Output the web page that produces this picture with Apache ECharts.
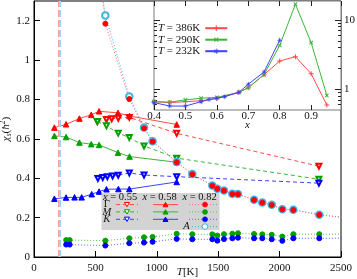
<!DOCTYPE html>
<html><head><meta charset="utf-8">
<script src="https://cdn.jsdelivr.net/npm/echarts@6/dist/echarts.min.js"></script>
<style>html,body{margin:0;padding:0;background:#fff}#c{width:357px;height:279px}</style>
</head><body><div id="c"></div>
<script>
// ---------- main plot data (T in K, chi_s in hbar^2) ----------
const TC_LINES = [198, 213];
const T55_G = [516, 590, 633, 686, 776, 1162, 2320];
const G55   = [0.688, 0.698, 0.702, 0.705, 0.709, 0.628, 0.461];
const T55_M = [516, 590, 686, 776, 896, 1162, 2320];
const M55   = [0.688, 0.666, 0.629, 0.607, 0.564, 0.502, 0.395];
const T55_K = [520, 560, 597, 640, 686, 776, 896, 1162, 2320];
const K55   = [0.399, 0.404, 0.408, 0.411, 0.415, 0.427, 0.416, 0.408, 0.375];
const T58   = [166, 261, 370, 466, 530, 684, 778, 1162];
const G58   = [0.657, 0.674, 0.703, 0.722, 0.740, 0.732, 0.716, 0.673];
const M58   = [0.615, 0.609, 0.581, 0.573, 0.569, 0.530, 0.510, 0.481];
const T58_K = [166, 261, 330, 388, 470, 530, 590, 687, 776, 1162];
const K58   = [0.296, 0.302, 0.303, 0.303, 0.319, 0.332, 0.344, 0.345, 0.345, 0.381];
const T82   = [262, 290, 581, 776, 896, 966, 1162, 1289, 1452, 1493, 1547, 1615, 1661, 1792, 1859, 1936, 2022, 2112, 2323, 2700];
const G82   = [3.6, 3.4, 1.185, 0.802, 0.654, 0.586, 0.481, 0.420, 0.362, 0.346, 0.337, 0.320, 0.319, 0.290, 0.276, 0.264, 0.242, 0.239, 0.214, 0.188];
const A82   = [2.3, 2.2, 1.227, 0.815, 0.658, 0.588, 0.482, 0.421, 0.363, 0.347, 0.338, 0.321, 0.320, 0.291, 0.277, 0.265, 0.243, 0.240, 0.215, 0.189];
const M82   = [0.086, 0.086, 0.083, 0.095, 0.100, 0.102, 0.118, 0.116, 0.115, 0.109, 0.116, 0.118, 0.121, 0.117, 0.115, 0.113, 0.104, 0.116, 0.116, 0.116];
const K82   = [0.063, 0.063, 0.058, 0.070, 0.073, 0.077, 0.092, 0.090, 0.090, 0.083, 0.091, 0.095, 0.098, 0.095, 0.095, 0.090, 0.082, 0.095, 0.095, 0.095];

// ---------- inset data (x, chi_s, log scale) ----------
const X_RG  = [0.40, 0.45, 0.50, 0.55, 0.60, 0.67, 0.70, 0.75, 0.80, 0.85, 0.90, 0.95];
const CHI386 = [0.66, 0.64, 0.66, 0.68, 0.73, 0.90, 1.05, 1.62, 2.55, 2.95, 1.67, 0.59];
const CHI290 = [0.66, 0.65, 0.70, 0.74, 0.76, 0.90, 1.05, 1.62, 4.3, 16.9, 4.7, 0.81];
const X_B   = [0.40, 0.45, 0.50, 0.55, 0.575, 0.60, 0.625, 0.67, 0.70, 0.75, 0.80];
const CHI232 = [0.64, 0.57, 0.57, 0.66, 0.71, 0.74, 0.78, 0.90, 1.18, 1.77, 5.1];
const INSET_NAMES = ['T=386K', 'T=290K', 'T=232K'];

// ---------- labels ----------
const LEG_COLS = ['0.55', '0.58', '0.82'];
const LEG_ROWS = ['Γ', 'M', 'K'];
const Y_MAJOR = [1, 10];
const Y_MINOR = [0.6, 0.7, 0.8, 0.9, 2, 3, 4, 5, 6, 7, 8, 9];

const SERIF = '"Liberation Serif", "Times New Roman", serif';
const RED = '#ff0000', GREEN = '#00a000', BLUE = '#0000ff', CYAN = '#3cb4e6';
const RED_L = '#ff4a4a', GREEN_L = '#3cb43c', BLUE_L = '#4040ff';
const DASH = [4, 3], DOT = [1, 2];

const zip = (xs, ys) => xs.map((x, i) => [x, ys[i]]);

function mainSeries(name, xs, ys, color, lineColor, dash, symbol, size, extra) {
  return Object.assign({
    name, type: 'line', xAxisIndex: 0, yAxisIndex: 0, data: zip(xs, ys),
    symbol, symbolSize: size, showAllSymbol: true,
    lineStyle: { color: lineColor, width: 1, type: dash },
    itemStyle: { color: color, borderColor: color, borderWidth: 1 },
    z: 2, animation: false, silent: true
  }, extra || {});
}

const PLUS = 'path://M4,0H6V4H10V6H6V10H4V6H0V4H4Z';
const STAR = 'path://M4.4,0H5.6V4.4H10V5.6H5.6V10H4.4V5.6H0V4.4H4.4Z M1.4,2.2L2.2,1.4L8.6,7.8L7.8,8.6Z M7.8,1.4L8.6,2.2L2.2,8.6L1.4,7.8Z';

function insetSeries(name, xs, ys, color, symbol, rot, size) {
  return {
    name, type: 'line', xAxisIndex: 1, yAxisIndex: 1, data: zip(xs, ys),
    symbol, symbolRotate: rot, symbolSize: size, showAllSymbol: true,
    lineStyle: { color, width: 1 }, itemStyle: { color },
    z: 12, animation: false, silent: true
  };
}

const series = [
  { name: 'tc', type: 'line', xAxisIndex: 0, yAxisIndex: 0, data: [], z: 1, silent: true,
    markLine: { silent: true, symbol: 'none', animation: false, label: { show: false },
      data: [
        { xAxis: TC_LINES[0], lineStyle: { color: '#ff9c9c', type: [7, 3], width: 2 } },
        { xAxis: TC_LINES[1], lineStyle: { color: '#9ad6f0', type: [7, 3], width: 2 } }
      ] } },
  mainSeries('G55', T55_G, G55, RED, RED_L, DASH, 'emptyTriangle', 5, { symbolRotate: 180 }),
  mainSeries('M55', T55_M, M55, GREEN, GREEN_L, DASH, 'emptyTriangle', 5, { symbolRotate: 180 }),
  mainSeries('K55', T55_K, K55, BLUE, BLUE_L, DASH, 'emptyTriangle', 5, { symbolRotate: 180 }),
  mainSeries('G58', T58, G58, RED, RED_L, 'solid', 'triangle', 5.5),
  mainSeries('M58', T58, M58, GREEN, GREEN_L, 'solid', 'triangle', 5.5),
  mainSeries('K58', T58_K, K58, BLUE, BLUE_L, 'solid', 'triangle', 5.5),
  mainSeries('A82', T82, A82, CYAN, CYAN, DOT, 'emptyCircle', 6.5),
  mainSeries('G82', T82, G82, RED, '#ff6a6a', DOT, 'circle', 5),
  mainSeries('M82', T82, M82, GREEN, '#55c055', DOT, 'circle', 5),
  mainSeries('K82', T82, K82, BLUE, '#6060ff', DOT, 'circle', 5),
  insetSeries(INSET_NAMES[0], X_RG, CHI386, RED_L, PLUS, 0, 5),
  insetSeries(INSET_NAMES[1], X_RG, CHI290, GREEN_L, PLUS, 45, 5),
  insetSeries(INSET_NAMES[2], X_B, CHI232, BLUE_L, STAR, 0, 5)
];

// ---------- main legend box (graphic) ----------
const graphic = [];
const gz = 50;
graphic.push({ type: 'rect', shape: { x: 101.5, y: 193, width: 118, height: 37 }, style: { fill: '#d3d3d3' }, z: gz, silent: true });
const colX = [103, 142.5, 182.5];
LEG_COLS.forEach((c, i) => {
  graphic.push({ type: 'text', x: colX[i], y: 197.6, z: gz + 1, silent: true,
    style: { text: '{i|x} = ' + c, fontFamily: SERIF, fontSize: 10.5, fill: '#111', verticalAlign: 'middle', align: 'left',
      rich: { i: { fontStyle: 'italic', fontFamily: SERIF, fontSize: 10.5 } } } });
});
const rowY = [204.6, 211.9, 219.3];
const rowCol = [[RED, RED_L, '#ff6a6a'], [GREEN, GREEN_L, '#55c055'], [BLUE, BLUE_L, '#6060ff']];
function tri(cx, cy, s, down) {
  const h = s * 0.87;
  return down ? [[cx - s / 2, cy - h / 2], [cx + s / 2, cy - h / 2], [cx, cy + h / 2]]
              : [[cx - s / 2, cy + h / 2], [cx + s / 2, cy + h / 2], [cx, cy - h / 2]];
}
LEG_ROWS.forEach((r, i) => {
  const y = rowY[i], col = rowCol[i][0];
  graphic.push({ type: 'text', x: 106.8, y: y, z: gz + 1, silent: true,
    style: { text: r, fontFamily: SERIF, fontSize: 10.5, fontStyle: i === 0 ? 'normal' : 'italic', fill: '#111', align: 'center', verticalAlign: 'middle' } });
  graphic.push({ type: 'line', z: gz + 1, silent: true, shape: { x1: 116, y1: y, x2: 138, y2: y }, style: { stroke: rowCol[i][1], lineWidth: 1, lineDash: DASH } });
  graphic.push({ type: 'polygon', z: gz + 2, silent: true, shape: { points: tri(127, y, 5, true) }, style: { fill: '#fff', stroke: col, lineWidth: 1 } });
  graphic.push({ type: 'line', z: gz + 1, silent: true, shape: { x1: 153, y1: y, x2: 178, y2: y }, style: { stroke: rowCol[i][1], lineWidth: 1 } });
  graphic.push({ type: 'polygon', z: gz + 2, silent: true, shape: { points: tri(165.5, y, 5, false) }, style: { fill: col, stroke: col, lineWidth: 1 } });
  graphic.push({ type: 'line', z: gz + 1, silent: true, shape: { x1: 189, y1: y, x2: 218, y2: y }, style: { stroke: rowCol[i][2], lineWidth: 1, lineDash: DOT } });
  graphic.push({ type: 'circle', z: gz + 2, silent: true, shape: { cx: 205, cy: y, r: 2.5 }, style: { fill: col, stroke: col, lineWidth: 0.5 } });
});
graphic.push({ type: 'text', x: 186.5, y: 226.6, z: gz + 1, silent: true,
  style: { text: 'A', fontFamily: SERIF, fontSize: 10.5, fontStyle: 'italic', fill: '#111', align: 'center', verticalAlign: 'middle' } });
graphic.push({ type: 'line', z: gz + 1, silent: true, shape: { x1: 192, y1: 226.6, x2: 218, y2: 226.6 }, style: { stroke: CYAN, lineWidth: 1, lineDash: DOT } });
graphic.push({ type: 'circle', z: gz + 2, silent: true, shape: { cx: 205, cy: 226.6, r: 2.8 }, style: { fill: '#fff', stroke: CYAN, lineWidth: 1 } });

const lbl = { fontFamily: SERIF, fontSize: 11, color: '#111', formatter: v => String(+v.toFixed(3)) };

const option = {
  animation: false,
  backgroundColor: '#fff',
  grid: [
    { left: 34, right: 16, top: 1, bottom: 22, show: true, borderColor: '#000', borderWidth: 1, backgroundColor: 'transparent', containLabel: false, outerBoundsMode: 'none' },
    { left: 154, right: 16, top: 1, height: 109, show: true, borderColor: '#7a7a7a', borderWidth: 1, backgroundColor: '#fff', z: 10, containLabel: false, outerBoundsMode: 'none' }
  ],
  xAxis: [
    { gridIndex: 0, type: 'value', min: 0, max: 2500, interval: 500, position: 'bottom',
      axisLine: { lineStyle: { color: '#000' } }, axisTick: { inside: true, length: 6, lineStyle: { color: '#000' } },
      axisLabel: Object.assign({ margin: 6 }, lbl), splitLine: { show: false },
      name: '{i|T}[K]', nameLocation: 'middle', nameGap: 10, nameMoveOverlap: false,
      nameTextStyle: { fontFamily: SERIF, fontSize: 11, color: '#111', rich: { i: { fontStyle: 'italic', fontFamily: SERIF, fontSize: 11 } } } },
    { gridIndex: 1, type: 'value', min: 0.4, max: 0.995, interval: 0.1, position: 'bottom', z: 11,
      axisLine: { show: false }, axisTick: { inside: true, length: 5, lineStyle: { color: '#222' } },
      axisLabel: Object.assign({ margin: 1, showMaxLabel: false }, lbl), splitLine: { show: false },
      name: 'x', nameLocation: 'middle', nameGap: 10, nameMoveOverlap: false,
      nameTextStyle: { fontFamily: SERIF, fontSize: 11, fontStyle: 'italic', color: '#111' } },
    { gridIndex: 1, type: 'value', min: 0.4, max: 0.995, interval: 0.1, position: 'top', z: 11,
      axisLine: { show: false }, axisTick: { inside: true, length: 5, lineStyle: { color: '#222' } },
      axisLabel: { show: false }, splitLine: { show: false } }
  ],
  yAxis: [
    { gridIndex: 0, type: 'value', min: 0, max: 1.3, interval: 0.2, position: 'left',
      axisLine: { show: true, lineStyle: { color: '#000' } }, axisTick: { show: true, inside: true, length: 6, lineStyle: { color: '#000' } },
      axisLabel: Object.assign({ margin: 4, showMaxLabel: false }, lbl), splitLine: { show: false },
      name: '{i|χ}{s|s}{n|(}{i|ħ}{p|2}{n|)}', nameLocation: 'middle', nameRotate: 90, nameGap: 21, nameMoveOverlap: false,
      nameTextStyle: { fontFamily: SERIF, fontSize: 11, color: '#111',
        rich: { i: { fontStyle: 'italic', fontFamily: SERIF, fontSize: 11, lineHeight: 14, verticalAlign: 'middle' },
                n: { fontFamily: SERIF, fontSize: 11, lineHeight: 14, verticalAlign: 'middle' },
                s: { fontStyle: 'italic', fontFamily: SERIF, fontSize: 7.5, lineHeight: 14, verticalAlign: 'bottom' },
                p: { fontFamily: SERIF, fontSize: 7.5, lineHeight: 14, verticalAlign: 'top' } } } },
    { gridIndex: 1, type: 'log', logBase: 10, min: 0.5, max: 18.8, position: 'right', z: 11,
      axisLine: { show: false }, splitLine: { show: false },
      axisTick: { show: true, inside: true, length: 6, customValues: Y_MAJOR, lineStyle: { color: '#222' } },
      axisLabel: Object.assign({ margin: 3, customValues: Y_MAJOR }, lbl) },
    { gridIndex: 1, type: 'log', logBase: 10, min: 0.5, max: 18.8, position: 'right', z: 11,
      axisLine: { show: false }, splitLine: { show: false },
      axisTick: { show: true, inside: true, length: 3, customValues: Y_MINOR, lineStyle: { color: '#222' } },
      axisLabel: { show: false } },
    { gridIndex: 1, type: 'log', logBase: 10, min: 0.5, max: 18.8, position: 'left', z: 11,
      axisLine: { show: false }, splitLine: { show: false },
      axisTick: { show: true, inside: true, length: 6, customValues: Y_MAJOR, lineStyle: { color: '#222' } },
      axisLabel: { show: false } },
    { gridIndex: 1, type: 'log', logBase: 10, min: 0.5, max: 18.8, position: 'left', z: 11,
      axisLine: { show: false }, splitLine: { show: false },
      axisTick: { show: true, inside: true, length: 3, customValues: Y_MINOR, lineStyle: { color: '#222' } },
      axisLabel: { show: false } }
  ],
  legend: {
    data: INSET_NAMES, orient: 'vertical', left: 158, top: 22.7, align: 'right',
    itemWidth: 22, itemHeight: 7, itemGap: 0.5, padding: 0, z: 12, selectedMode: false,
    formatter: n => '{i|T}{n| = ' + n.slice(2) + '}',
    textStyle: { fontFamily: SERIF, fontSize: 11, color: '#111', lineHeight: 8,
      rich: { i: { fontStyle: 'italic', fontFamily: SERIF, fontSize: 11, lineHeight: 8 },
              n: { fontFamily: SERIF, fontSize: 11, lineHeight: 8 } } }
  },
  graphic: { elements: graphic },
  series
};

const chart = echarts.init(document.getElementById('c'), null, { renderer: 'canvas' });
chart.setOption(option);
</script>
</body></html>
